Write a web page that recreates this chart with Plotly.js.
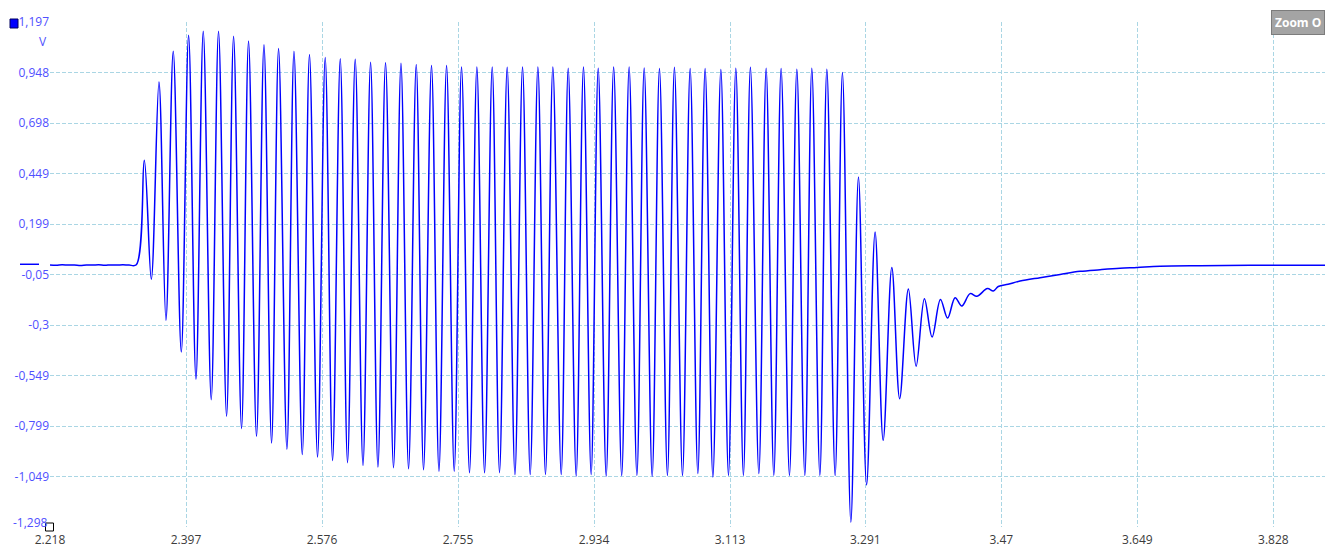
<!DOCTYPE html>
<html>
<head>
<meta charset="utf-8">
<script src="https://cdn.plot.ly/plotly-3.0.1.min.js"></script>
<style>
  html, body { margin: 0; padding: 0; background: #ffffff; }
  #chart { width: 1325px; height: 547px; }
</style>
</head>
<body>
<div id="chart"></div>
<script>
// ---- Data (time in s, voltage in V) ----
const baseT = [2.218, 2.226, 2.234, 2.242, 2.250, 2.258, 2.266, 2.274, 2.282, 2.290, 2.298, 2.306, 2.314, 2.322, 2.3316];
const baseV = [-0.003, -0.005, -0.002, -0.004, -0.003, -0.006, -0.003, -0.004, -0.002, -0.005, -0.003, -0.004, -0.002, -0.004, -0.002];

const peakT = [2.3421, 2.3614, 2.3802, 2.4004, 2.4197, 2.4398, 2.4596, 2.4793, 2.4996, 2.5188,
               2.5391, 2.5595, 2.5802, 2.6000, 2.6197, 2.6399, 2.6596, 2.6799, 2.7000, 2.7201,
               2.7399, 2.7596, 2.7798, 2.8000, 2.8197, 2.8399, 2.8601, 2.8798, 2.9000, 2.9201,
               2.9395, 2.9598, 2.9802, 3.0000, 3.0201, 3.0398, 3.0605, 3.0802, 3.1009, 3.1206,
               3.1398, 3.1605, 3.1802, 3.2009, 3.2206, 3.2404, 3.2609, 3.2820, 3.3039, 3.3259,
               3.3477, 3.3688, 3.3899, 3.4092, 3.4289, 3.4517];
const peakV = [0.514, 0.901, 1.052, 1.131, 1.151, 1.151, 1.126, 1.103, 1.085, 1.066,
               1.052, 1.036, 1.021, 1.016, 1.013, 0.998, 0.996, 0.993, 0.987, 0.982,
               0.982, 0.975, 0.975, 0.975, 0.973, 0.975, 0.975, 0.975, 0.968, 0.975,
               0.968, 0.975, 0.975, 0.970, 0.967, 0.973, 0.967, 0.967, 0.962, 0.968,
               0.973, 0.968, 0.967, 0.963, 0.968, 0.963, 0.947, 0.431, 0.159, -0.016,
               -0.122, -0.170, -0.174, -0.165, -0.145, -0.120];

const troughT = [2.3513, 2.3706, 2.3908, 2.4101, 2.4302, 2.4504, 2.4701, 2.4898, 2.5096, 2.5298,
                 2.5500, 2.5701, 2.5899, 2.6096, 2.6299, 2.6496, 2.6701, 2.6899, 2.7096, 2.7299,
                 2.7500, 2.7701, 2.7899, 2.8096, 2.8299, 2.8500, 2.8701, 2.8908, 2.9105, 2.9302,
                 2.9500, 2.9704, 2.9904, 3.0105, 3.0306, 3.0504, 3.0706, 3.0904, 3.1109, 3.1306,
                 3.1509, 3.1706, 3.1912, 3.2114, 3.2312, 3.2513, 3.2720, 3.2927, 3.3145, 3.3362,
                 3.3579, 3.3789, 3.3993, 3.4180, 3.4378, 3.4595];
const troughV = [-0.074, -0.277, -0.434, -0.568, -0.669, -0.751, -0.812, -0.850, -0.883, -0.914,
                 -0.940, -0.952, -0.969, -0.980, -0.993, -1.002, -1.005, -1.010, -1.015, -1.023,
                 -1.023, -1.030, -1.030, -1.030, -1.039, -1.039, -1.039, -1.039, -1.046, -1.039,
                 -1.046, -1.044, -1.043, -1.048, -1.043, -1.043, -1.034, -1.051, -1.043, -1.043,
                 -1.034, -1.043, -1.043, -1.043, -1.043, -1.043, -1.274, -1.090, -0.870, -0.664,
                 -0.504, -0.359, -0.266, -0.206, -0.158, -0.132];

const tailT = [3.4660, 3.4789, 3.4947, 3.5210, 3.5474, 3.5737, 3.6000, 3.6263, 3.6487, 3.6789, 3.7316, 3.7974, 3.8960];
const tailV = [-0.110, -0.099, -0.083, -0.066, -0.050, -0.035, -0.027, -0.020, -0.016, -0.010, -0.007, -0.005, -0.005];

const xTicks = [2.218, 2.397, 2.576, 2.755, 2.934, 3.113, 3.291, 3.47, 3.649, 3.828];
const xTickLabels = ["2.218", "2.397", "2.576", "2.755", "2.934", "3.113", "3.291", "3.47", "3.649", "3.828"];
const yTicks = [1.197, 0.948, 0.698, 0.449, 0.199, -0.05, -0.3, -0.549, -0.799, -1.049, -1.298];
const yTickLabels = ["1,197", "0,948", "0,698", "0,449", "0,199", "-0,05", "-0,3", "-0,549", "-0,799", "-1,049", "-1,298"];

// ---- Merge all read points into one time-ordered trace ----
const pts = [];
function addPts(T, V) { for (let i = 0; i < T.length; i++) pts.push([T[i], V[i]]); }
addPts(baseT, baseV); addPts(peakT, peakV); addPts(troughT, troughV); addPts(tailT, tailV);
pts.sort((a, b) => a[0] - b[0]);
const xs = pts.map(p => p[0]);
const ys = pts.map(p => p[1]);

const BLUE = 'rgb(0,0,255)';
const LABEL_BLUE = 'rgb(80,80,255)';
const GRID = '#aad6e4';
const FONT = 'Open Sans, Noto Sans, sans-serif';

// bottom y label is drawn as an annotation nudged up so it clears the x labels
const lastY = yTicks.length - 1;
const yAxisText = yTickLabels.map((t, i) => (i === lastY ? '' : t));

const trace = {
  x: xs, y: ys, type: 'scatter', mode: 'lines',
  line: { color: BLUE, width: 1.5, shape: 'spline', smoothing: 1 },
  hoverinfo: 'skip'
};

const layout = {
  width: 1325, height: 547,
  margin: { l: 50, r: 0, t: 22, b: 20, pad: 0 },
  paper_bgcolor: '#ffffff', plot_bgcolor: '#ffffff',
  showlegend: false,
  font: { family: FONT, size: 12 },
  xaxis: {
    range: [2.218, 3.896], tickmode: 'array', tickvals: xTicks, ticktext: xTickLabels,
    showgrid: true, gridcolor: GRID, griddash: '4px,2px', gridwidth: 1,
    zeroline: false, showline: false, ticks: '', ticklabelstandoff: 4,
    tickfont: { family: FONT, size: 12, color: '#3c3c3c' }, fixedrange: true
  },
  yaxis: {
    range: [-1.298, 1.197], tickmode: 'array', tickvals: yTicks, ticktext: yAxisText,
    showgrid: true, gridcolor: GRID, griddash: '4px,2px', gridwidth: 1,
    zeroline: false, showline: false, ticks: '',
    tickfont: { family: FONT, size: 12, color: LABEL_BLUE }, fixedrange: true
  },
  shapes: [
    // channel marker (blue square) at top-left
    { type: 'rect', xref: 'paper', yref: 'paper', xsizemode: 'pixel', ysizemode: 'pixel',
      xanchor: 0, yanchor: 1, x0: -40, x1: -32, y0: 3, y1: -6,
      fillcolor: '#0000ff', line: { color: '#000060', width: 1 }, layer: 'above' },
    // white square at bottom-left
    { type: 'rect', xref: 'paper', yref: 'paper', xsizemode: 'pixel', ysizemode: 'pixel',
      xanchor: 0, yanchor: 0, x0: -4.5, x1: 3.5, y0: 4, y1: -4,
      fillcolor: '#ffffff', line: { color: '#000000', width: 1 }, layer: 'above' },
    // zero-level marker
    { type: 'line', xref: 'paper', yref: 'y', xsizemode: 'pixel', xanchor: 0,
      x0: -30, x1: -11, y0: 0, y1: 0, line: { color: BLUE, width: 1.5 } }
  ],
  annotations: [
    { text: yTickLabels[lastY], xref: 'paper', yref: 'y', x: 0, y: yTicks[lastY],
      xanchor: 'right', yanchor: 'middle', xshift: -1, yshift: 5, showarrow: false, borderpad: 0,
      font: { family: FONT, size: 12, color: LABEL_BLUE } },
    { text: 'V', xref: 'paper', yref: 'paper', x: 0, y: 1, xanchor: 'center', yanchor: 'middle',
      xshift: -7, yshift: -19, showarrow: false, font: { family: FONT, size: 12, color: LABEL_BLUE } },
    { text: '<b>Zoom O</b>', xref: 'paper', yref: 'paper', x: 1, y: 1, xanchor: 'right', yanchor: 'middle',
      xshift: 0, yshift: 0, showarrow: false, bgcolor: '#a4a4a4', bordercolor: '#7c7c7c', borderwidth: 1,
      borderpad: 3, font: { family: FONT, size: 12, color: '#ffffff' } }
  ]
};

Plotly.newPlot('chart', [trace], layout, { staticPlot: true, displayModeBar: false });
</script>
</body>
</html>
